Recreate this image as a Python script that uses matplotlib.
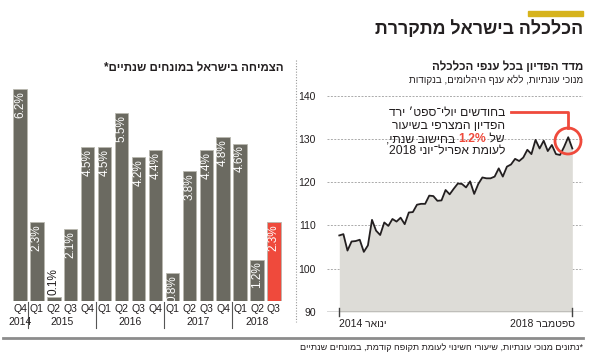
import re
import matplotlib
matplotlib.use("Agg")
import matplotlib.pyplot as plt
from matplotlib.patches import Circle, Rectangle
from matplotlib.lines import Line2D
from matplotlib.transforms import IdentityTransform

plt.rcParams['font.family'] = ['Liberation Sans Narrow', 'Liberation Sans', 'DejaVu Sans']


def vis(s):
    # hebrew is drawn left to right, so flip it and put numbers back
    r = s[::-1]
    return re.sub(r'[0-9.%]+', lambda m: m.group(0)[::-1], r)


# growth, quarterly, annualized %
quarters = ['Q4', 'Q1', 'Q2', 'Q3', 'Q4', 'Q1', 'Q2', 'Q3', 'Q4',
            'Q1', 'Q2', 'Q3', 'Q4', 'Q1', 'Q2', 'Q3']
growth = [6.2, 2.3, 0.1, 2.1, 4.5, 4.5, 5.5, 4.2, 4.4,
          0.8, 3.8, 4.4, 4.8, 4.6, 1.2, 2.3]
years = ['2014', '2015', '2016', '2017', '2018']
year_pos = [0, 2.5, 6.5, 10.5, 14]

# revenue index, Jan 2014 - Sep 2018
revenue = [107.7, 108.0, 104.2, 106.3, 106.4, 106.7, 103.9, 105.4, 111.3, 108.8,
           107.8, 110.7, 109.9, 111.5, 110.9, 111.8, 110.3, 113.0, 113.1, 114.8,
           115.0, 115.0, 116.9, 116.8, 115.7, 115.8, 118.2, 117.2, 118.5, 119.7,
           119.6, 118.8, 120.2, 117.3, 119.6, 121.1, 120.9, 120.9, 121.3, 123.2,
           121.3, 123.6, 124.1, 125.4, 124.9, 125.7, 127.5, 126.5, 129.8, 127.8,
           129.6, 127.2, 128.6, 126.5, 126.3, 128.2, 130.4, 127.8]

W, H = 590, 354
fig = plt.figure(figsize=(5.9, 3.54), dpi=100)


def fx(x):
    return x / W


def fy(y):
    return 1 - y / H


dark = '#231f20'
red = '#ef4a3c'
grey_bar = '#6b6a61'
tr = fig.transFigure

# header
fig.add_artist(Rectangle((fx(528), fy(16)), fx(55), 5 / H, color='#d6b31c',
                         transform=tr))
fig.text(fx(583), fy(29), vis('הכלכלה בישראל מתקררת'), ha='right', va='center',
         fontsize=12.8, fontweight='bold', color=dark)

fig.text(fx(283), fy(68), vis('הצמיחה בישראל במונחים שנתיים*'), ha='right',
         va='center', fontsize=8.3, fontweight='bold', color=dark)
fig.text(fx(583), fy(67), vis('מדד הפדיון בכל ענפי הכלכלה'), ha='right',
         va='center', fontsize=8.3, fontweight='bold', color=dark)
fig.text(fx(583), fy(80), vis('מנוכי עונתיות, ללא ענף היהלומים, בנקודות'),
         ha='right', va='center', fontsize=7, color=dark)

fig.add_artist(Line2D([fx(296), fx(296)], [fy(60), fy(322)], color='#999999',
                      lw=0.8, ls=(0, (1, 1.5)), transform=tr))

# footer
fig.add_artist(Line2D([fx(3), fx(583)], [fy(338), fy(338)], color='#8c8c8c',
                      lw=2, transform=tr))
fig.text(fx(583), fy(347), vis('*נתונים מנוכי עונתיות, שיעורי השינוי לעומת תקופה קודמת, במונחים שנתיים'),
         ha='right', va='center', fontsize=6.5, color=dark)

# bar chart
pxu = 34.15
ax1 = fig.add_axes([fx(11.5), fy(300.7), fx(270.9), 6.5 * pxu / H])
colors = [grey_bar] * (len(growth) - 1) + [red]
ax1.bar(range(len(growth)), growth, width=0.79, color=colors,
        edgecolor='#b9b8b0', linewidth=0.6)
ax1.set_xlim(-0.5, 15.5)
ax1.set_ylim(0, 6.5)
ax1.axis('off')
for i, v in enumerate(growth):
    lab = '%.1f%%' % v
    if v < 0.5:
        ax1.text(i, v + 2 / pxu, lab, rotation=90, ha='center', va='bottom',
                 fontsize=8.5, color=dark)
    else:
        ax1.text(i, v - 2 / pxu, lab, rotation=90, ha='center', va='top',
                 fontsize=8.5, color='white')
for i, q in enumerate(quarters):
    ax1.text(i, -8.5 / pxu, q, ha='center', va='center', fontsize=7.5,
             color=dark, clip_on=False)
for p, y in zip(year_pos, years):
    ax1.text(p, -21.5 / pxu, y, ha='center', va='center', fontsize=7.5,
             color=dark, clip_on=False)
for s in [0.5, 4.5, 8.5, 12.5]:
    ax1.plot([s, s], [-1.5 / pxu, -27 / pxu], color='#555555', lw=0.8,
             clip_on=False)

# line chart
mx = 4.088
vy = 4.326
x0 = 339.3
ax2 = fig.add_axes([fx(327), fy(312), fx(256), 51 * vy / H])
ax2.set_xlim((327 - x0) / mx, (583 - x0) / mx)
ax2.set_ylim(90, 141)
months = list(range(len(revenue)))
ax2.fill_between(months, revenue, 90, color='#dddcd7', lw=0)
ax2.plot(months, revenue, color=dark, lw=1.3)
for g in [100, 110, 120, 130, 140]:
    ax2.axhline(g, color='#aaaaaa', lw=0.7, ls=(0, (2, 1.5)), zorder=0)
ax2.axhline(90, color='#444444', lw=1)
for m in [0, len(revenue) - 1]:
    ax2.plot([m, m], [89.0, 91.0], color='#444444', lw=1, clip_on=False)
for s in ax2.spines.values():
    s.set_visible(False)
ax2.set_xticks([])
ax2.set_yticks([90, 100, 110, 120, 130, 140])
ax2.tick_params(axis='y', length=0, pad=8, labelsize=7.5, labelcolor=dark)
ax2.text(0, 90 - 12 / vy, vis('ינואר 2014'), ha='left', va='center',
         fontsize=7.5, color=dark, clip_on=False)
ax2.text(len(revenue) - 1 + 0.7, 90 - 12 / vy, vis('ספטמבר 2018'), ha='right',
         va='center', fontsize=7.5, color=dark, clip_on=False)

# annotation
fig.add_artist(Line2D([fx(511), fx(568), fx(568)], [fy(112), fy(112), fy(128)],
                      color=red, lw=2, transform=tr))
fig.add_artist(Circle((568, H - 141), 13, fill=False, ec=red, lw=2,
                      transform=IdentityTransform()))

fs = 8.7
ann = ['בחודשים יולי־ספט׳ ירד', 'הפדיון המצרפי בשיעור', None,
       'לעומת אפריל־יוני 2018']
ys = [113, 126, 139, 151]
for t, y in zip(ann, ys):
    if t:
        fig.text(fx(505), fy(y), vis(t), ha='right', va='center', fontsize=fs,
                 color=dark)
r = fig.canvas.get_renderer()
t1 = fig.text(fx(505), fy(139), vis('של '), ha='right', va='center',
              fontsize=fs, color=dark)
w1 = t1.get_window_extent(r).width
t2 = fig.text(fx(505 - w1), fy(139), '1.2%', ha='right', va='center',
              fontsize=fs, color=red, fontweight='bold')
w2 = t2.get_window_extent(r).width
fig.text(fx(505 - w1 - w2), fy(139), vis(' בחישוב שנתי,'), ha='right',
         va='center', fontsize=fs, color=dark)

fig.savefig('out.png', dpi=100)
